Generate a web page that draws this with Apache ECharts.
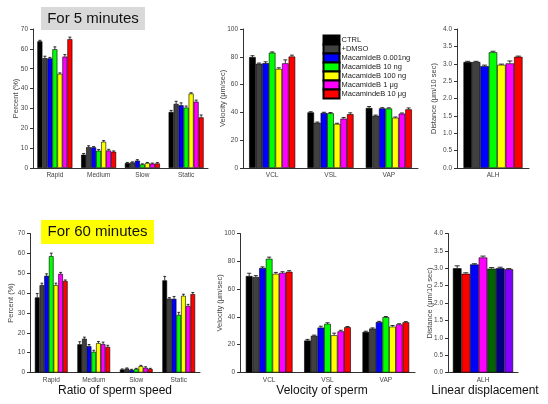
<!DOCTYPE html>
<html>
<head>
<meta charset="utf-8">
<script src="https://cdn.jsdelivr.net/npm/echarts@6/dist/echarts.min.js"></script>
<style>
html,body{margin:0;padding:0;background:#fff;}
#chart{width:548px;height:404px;}
</style>
</head>
<body>
<div id="chart"></div>
<script>
// ---------- DATA ----------
const ratioCategories = ['Rapid', 'Medium', 'Slow', 'Static'];
const velocityCategories = ['VCL', 'VSL', 'VAP'];
const alhCategories = ['ALH'];
const groupNames = ['CTRL', '+DMSO', 'MacamideB 0.001ng', 'MacamideB 10 ng', 'MacamideB 100 ng', 'MacamideB 1 \u03bcg', 'MacamindeB 10 \u03bcg'];
const groupColors = ['#000000', '#404040', '#0000ff', '#00ff00', '#ffff00', '#ff00ff', '#ff0000'];
const alh60Colors = ['#000000', '#ff0000', '#0000ff', '#ff00ff', '#006400', '#000080', '#8000ff'];

// rows = groups (CTRL ... 10 μg), columns = categories
const ratio5 = [
  [63.8, 6.7, 2.5, 28.2],
  [55.3, 10.5, 2.8, 32.3],
  [55.2, 10.4, 3.7, 31.6],
  [59.8, 8.7, 1.8, 30.4],
  [47.4, 13.2, 2.5, 37.5],
  [56.1, 8.8, 2.2, 33.4],
  [64.9, 8.2, 2.3, 25.5]
];
const ratio5Err = [
  [0.5, 0.6, 0.3, 0.8],
  [1.0, 0.7, 0.3, 1.3],
  [0.5, 0.4, 0.5, 1.2],
  [1.2, 0.6, 0.3, 0.8],
  [0.5, 0.6, 0.3, 0.4],
  [1.0, 0.6, 0.3, 0.8],
  [1.0, 0.4, 0.5, 1.2]
];
const velocity5 = [
  [79.8, 40.0, 43.2],
  [75.0, 32.6, 37.6],
  [75.4, 39.6, 42.9],
  [83.0, 39.4, 42.8],
  [71.3, 31.7, 36.2],
  [75.3, 35.5, 39.1],
  [80.2, 38.7, 42.2]
];
const velocity5Err = [
  [1.0, 0.5, 1.0],
  [0.5, 0.5, 0.5],
  [1.0, 0.5, 0.5],
  [0.5, 0.5, 0.5],
  [0.8, 0.5, 0.5],
  [2.5, 0.8, 0.5],
  [1.0, 1.0, 1.0]
];
const alh5 = [[3.05], [3.05], [2.93], [3.33], [2.97], [3.01], [3.20]];
const alh5Err = [[0.02], [0.02], [0.03], [0.03], [0.02], [0.07], [0.02]];

const ratio60 = [
  [37.8, 14.2, 1.5, 46.4],
  [44.0, 17.0, 2.0, 37.2],
  [48.7, 13.3, 1.3, 37.1],
  [58.6, 10.4, 1.8, 29.0],
  [44.0, 14.8, 3.2, 38.6],
  [49.7, 14.3, 2.4, 33.5],
  [46.1, 12.9, 1.8, 39.5]
];
const ratio60Err = [
  [2.0, 1.3, 0.3, 2.0],
  [1.0, 0.8, 0.3, 0.5],
  [1.0, 0.8, 0.3, 1.2],
  [1.5, 0.8, 0.3, 1.3],
  [1.0, 0.8, 0.4, 0.8],
  [0.7, 1.0, 0.5, 0.8],
  [0.5, 0.8, 0.3, 0.8]
];
const velocity60 = [
  [69.4, 23.0, 29.2],
  [68.7, 26.4, 31.6],
  [75.2, 32.3, 36.3],
  [81.8, 35.0, 39.8],
  [71.0, 26.8, 33.0],
  [71.7, 29.6, 34.6],
  [72.5, 32.6, 36.1]
];
const velocity60Err = [
  [2.0, 0.8, 0.5],
  [1.0, 0.5, 0.5],
  [0.8, 1.0, 0.5],
  [1.2, 0.8, 0.5],
  [1.0, 1.5, 0.8],
  [0.8, 0.8, 0.5],
  [0.8, 0.5, 0.5]
];
const alh60 = [[3.00], [2.84], [3.11], [3.31], [2.99], [3.00], [2.97]];
const alh60Err = [[0.07], [0.03], [0.02], [0.04], [0.03], [0.03], [0.02]];

// ---------- LAYOUT / STYLE ----------
const FONT = 'Liberation Sans, Arial, sans-serif';
const panels = [
  {grid: {left: 33, top: 29, width: 175, height: 139}, cats: ratioCategories, rows: ratio5, errs: ratio5Err, colors: groupColors, max: 70, interval: 10, name: 'Percent (%)', nameGap: 13, gap: 0.20, dec: 0},
  {grid: {left: 243, top: 29, width: 175, height: 139}, cats: velocityCategories, rows: velocity5, errs: velocity5Err, colors: groupColors, max: 100, interval: 20, name: 'Velocity (\u03bcm/sec)', nameGap: 16, gap: 0.21, dec: 0},
  {grid: {left: 457, top: 29, width: 72, height: 139}, cats: alhCategories, rows: alh5, errs: alh5Err, colors: groupColors, max: 4, interval: 0.5, name: 'Distance (\u03bcm/10 sec)', nameGap: 19.5, gap: 0.18, dec: 1},
  {grid: {left: 30, top: 233.5, width: 170, height: 139}, cats: ratioCategories, rows: ratio60, errs: ratio60Err, colors: groupColors, max: 70, interval: 10, name: 'Percent (%)', nameGap: 15, gap: 0.23, dec: 0},
  {grid: {left: 240, top: 233.5, width: 175, height: 139}, cats: velocityCategories, rows: velocity60, errs: velocity60Err, colors: groupColors, max: 100, interval: 20, name: 'Velocity (\u03bcm/sec)', nameGap: 16, gap: 0.20, dec: 0},
  {grid: {left: 448, top: 233.5, width: 70, height: 139}, cats: alhCategories, rows: alh60, errs: alh60Err, colors: alh60Colors, max: 4, interval: 0.5, name: 'Distance (\u03bcm/10 sec)', nameGap: 14, gap: 0.14, dec: 1}
];

const grids = [], xAxes = [], yAxes = [], series = [];
panels.forEach(function (p, i) {
  grids.push(Object.assign({containLabel: false}, p.grid));
  xAxes.push({
    type: 'category', gridIndex: i, data: p.cats,
    axisLine: {lineStyle: {color: '#333', width: 1}},
    axisTick: {show: false},
    axisLabel: {fontSize: 6.5, color: '#444', margin: 4, fontFamily: FONT}
  });
  yAxes.push({
    type: 'value', gridIndex: i, min: 0, max: p.max, interval: p.interval,
    name: p.name, nameLocation: 'middle', nameGap: p.nameGap, nameRotate: 90,
    nameMoveOverlap: false,
    nameTextStyle: {fontSize: 7.5, color: '#444', fontFamily: FONT},
    axisLine: {show: true, lineStyle: {color: '#333', width: 1}},
    axisTick: {show: true, length: 3, lineStyle: {color: '#333'}},
    splitLine: {show: false},
    axisLabel: {fontSize: 6.5, color: '#444', margin: 5, fontFamily: FONT,
      formatter: (function (d) { return function (v) { return v.toFixed(d); }; })(p.dec)}
  });
  const gapPct = Math.round(p.gap * 100) + '%';
  p.rows.forEach(function (row, g) {
    series.push({
      type: 'bar', name: groupNames[g], xAxisIndex: i, yAxisIndex: i,
      data: row, barGap: '0%', barCategoryGap: gapPct, silent: true,
      itemStyle: {color: p.colors[g], borderColor: '#000', borderWidth: 0.6}
    });
  });
  const errData = [];
  p.rows.forEach(function (row, g) {
    row.forEach(function (v, c) { errData.push([c, v, p.errs[g][c], g]); });
  });
  const nGroups = p.rows.length;
  const gapFrac = p.gap;
  series.push({
    type: 'custom', name: 'err' + i, xAxisIndex: i, yAxisIndex: i, silent: true, z: 5,
    data: errData,
    renderItem: function (params, api) {
      const c = api.value(0), v = api.value(1), e = api.value(2), g = api.value(3);
      const base = api.coord([c, v]);
      const top = api.coord([c, v + e]);
      const band = api.size([1, 0])[0];
      const groupW = band * (1 - gapFrac);
      const bw = groupW / nGroups;
      const x = base[0] - groupW / 2 + bw * (g + 0.5);
      const st = {stroke: '#000', lineWidth: 0.8};
      return {type: 'group', children: [
        {type: 'line', shape: {x1: x, y1: base[1], x2: x, y2: top[1]}, style: st},
        {type: 'line', shape: {x1: x - bw * 0.3, y1: top[1], x2: x + bw * 0.3, y2: top[1]}, style: st}
      ]};
    }
  });
});

const option = {
  animation: false,
  backgroundColor: '#ffffff',
  textStyle: {fontFamily: FONT},
  grid: grids, xAxis: xAxes, yAxis: yAxes, series: series,
  legend: {
    data: groupNames, orient: 'vertical', left: 322.5, top: 34.5, padding: 0,
    itemWidth: 16, itemHeight: 9, itemGap: -2, icon: 'rect', selectedMode: false,
    textStyle: {fontSize: 7.5, color: '#222', fontFamily: FONT, lineHeight: 9, padding: [0, 0, 0, -3]}
  },
  graphic: [
    {type: 'rect', left: 41, top: 7, shape: {width: 104, height: 23}, style: {fill: '#d9d9d9'}},
    {type: 'text', x: 93, y: 18.5, style: {text: 'For 5 minutes', font: '15px ' + FONT, fill: '#111', textAlign: 'center', textVerticalAlign: 'middle'}},
    {type: 'rect', left: 41, top: 220, shape: {width: 113, height: 24}, style: {fill: '#ffff00'}},
    {type: 'text', x: 97.5, y: 232, style: {text: 'For 60 minutes', font: '15px ' + FONT, fill: '#111', textAlign: 'center', textVerticalAlign: 'middle'}},
    {type: 'text', x: 115, y: 391, style: {text: 'Ratio of sperm speed', font: '12px ' + FONT, fill: '#111', textAlign: 'center', textVerticalAlign: 'middle'}},
    {type: 'text', x: 322, y: 391, style: {text: 'Velocity of sperm', font: '12px ' + FONT, fill: '#111', textAlign: 'center', textVerticalAlign: 'middle'}},
    {type: 'text', x: 485, y: 391, style: {text: 'Linear displacement', font: '12px ' + FONT, fill: '#111', textAlign: 'center', textVerticalAlign: 'middle'}}
  ]
};

const chart = echarts.init(document.getElementById('chart'), null, {renderer: 'canvas'});
chart.setOption(option);
</script>
</body>
</html>
